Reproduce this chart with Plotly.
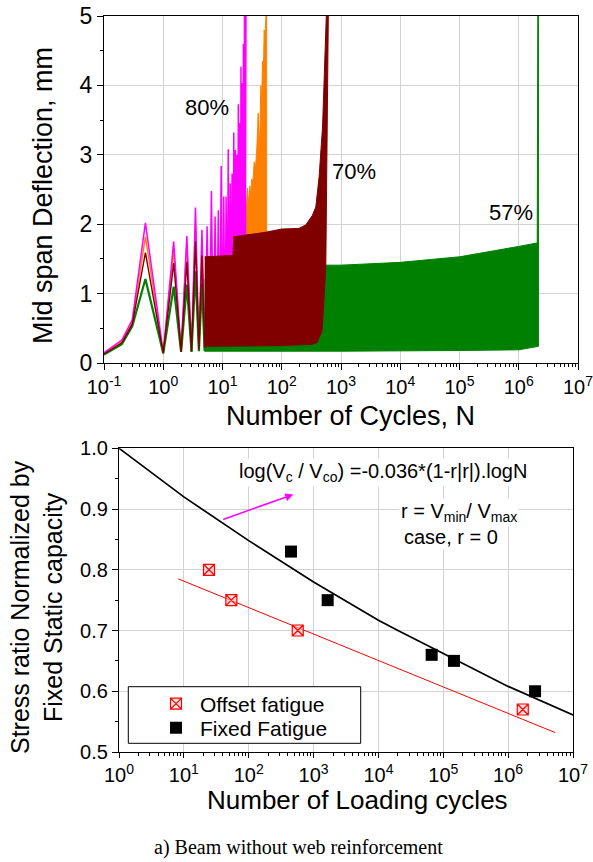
import plotly.graph_objects as go

W, H = 593, 862
FONT = "Liberation Sans, Arial, sans-serif"

# ---------------- top panel: mid-span deflection vs number of cycles ----------------
# early, individually visible cycles (troughs at whole cycles, peaks at half cycles)
mag_N = [0.1, 0.2, 0.3, 0.5, 1, 1.5, 2, 2.5, 3, 3.5, 4, 4.5, 5, 5.5, 6, 6.5, 7, 7.5, 8, 8.5,
         9, 9.5, 10, 10.5, 11, 11.5, 12, 12.5, 13, 13.5, 14, 14.5, 15, 15.5, 16, 16.5, 17,
         17.5, 18, 18.5, 19, 19.5, 20, 20.5, 21, 21.5, 22, 22.5, 23, 23.5, 24, 24.5, 25]
mag_D = [0.15, 0.33, 0.62, 2.02, 0.15, 1.75, 0.17, 1.83, 0.17, 2.24, 0.18, 1.92, 0.18, 1.97,
         0.18, 2.48, 0.19, 2.11, 0.19, 2.20, 0.19, 2.84, 0.20, 2.40, 0.20, 2.40, 0.20, 3.08,
         0.20, 2.59, 0.20, 2.73, 0.20, 3.32, 0.20, 3.07, 0.20, 3.00, 0.20, 3.73, 0.20, 3.46,
         0.20, 4.27, 0.20, 4.03, 0.20, 4.60, 0.20, 5.50, 0.20, 5.50, 5.50]

orn_N = [0.1, 0.2, 0.3, 0.5, 1, 1.5, 2, 2.5, 3, 3.5, 4, 4.5, 5]
orn_D = [0.14, 0.31, 0.58, 1.82, 0.14, 1.62, 0.16, 1.72, 0.17, 2.00, 0.18, 1.80, 0.18]
orn_hi_N = [20, 22, 23.2, 24, 25, 26.4, 27.5, 29, 30, 31, 32.5, 34.3, 36, 38, 40, 41.5, 43,
            44.4, 46, 47.3, 49, 50.5, 52, 54, 55.5]
orn_hi_D = [1.80, 1.85, 1.95, 2.30, 2.10, 2.52, 2.30, 2.55, 2.40, 2.65, 2.60, 2.90, 2.80,
            3.10, 3.60, 3.10, 3.40, 4.00, 3.80, 4.35, 4.20, 4.80, 4.70, 5.20, 5.20]
orn_lo_N = [20, 55.5]
orn_lo_D = [0.25, 0.25]

mar_N = [0.1, 0.2, 0.3, 0.5, 1, 1.5, 2, 2.5, 3, 3.5, 4, 4.5, 5]
mar_D = [0.13, 0.29, 0.56, 1.59, 0.14, 1.44, 0.16, 1.46, 0.17, 1.75, 0.20, 1.55, 0.22]
mar_hi_N = [5, 15, 15.5, 30, 50, 100, 196, 255, 330, 376, 427, 488, 537, 575]
mar_hi_D = [1.53, 1.55, 1.82, 1.85, 1.88, 1.93, 1.94, 1.99, 2.13, 2.25, 2.68, 3.40, 4.37, 5.20]
mar_lo_N = [5, 100, 330, 400, 427, 474, 486, 554, 614]
mar_lo_D = [0.24, 0.25, 0.27, 0.30, 0.37, 0.45, 0.54, 1.38, 5.20]

grn_N = [0.1, 0.2, 0.3, 0.5, 1, 1.5, 2, 2.5, 3, 3.5, 4, 4.5, 5]
grn_D = [0.12, 0.27, 0.53, 1.21, 0.14, 1.10, 0.16, 1.13, 0.16, 1.32, 0.17, 1.14, 0.17]
grn_hi_N = [5, 480, 540, 1e3, 1e4, 1e5, 1e6, 2.05e6, 2.1e6]
grn_hi_D = [1.20, 1.22, 1.41, 1.41, 1.45, 1.53, 1.68, 1.73, 5.20]
grn_lo_N = [5, 1e3, 1e5, 1e6, 2.15e6, 2.15e6]
grn_lo_D = [0.17, 0.17, 0.18, 0.19, 0.24, 5.20]

top_labels = ["80%", "70%", "57%"]

# ---------------- bottom panel: S-N data ----------------
off_N = [24.4, 54, 570, 1.68e6]
off_S = [0.80, 0.75, 0.70, 0.57]
fix_N = [449, 1650, 66200, 146000, 2.6e6]
fix_S = [0.83, 0.75, 0.66, 0.65, 0.60]
fitfix_N = [1, 10, 100, 1e3, 1e4, 2e4, 1e5, 1e6, 1e7]
fitfix_S = [1.0, 0.92, 0.848, 0.78, 0.717, 0.70, 0.662, 0.608, 0.561]
fitoff_N = [8.2, 5.3e6]
fitoff_S = [0.785, 0.532]

top_xtick_vals = [0.1, 1, 10, 100, 1e3, 1e4, 1e5, 1e6, 1e7]
top_xtick_text = ["10<sup>-1</sup>", "10<sup>0</sup>", "10<sup>1</sup>", "10<sup>2</sup>",
                  "10<sup>3</sup>", "10<sup>4</sup>", "10<sup>5</sup>", "10<sup>6</sup>",
                  "10<sup>7</sup>"]
bot_xtick_vals = top_xtick_vals[1:]
bot_xtick_text = top_xtick_text[1:]


def px(p):
    return p / W


def py(p):
    return 1 - p / H


def env(hiN, hiD, loN, loD):
    return list(hiN) + list(reversed(loN)), list(hiD) + list(reversed(loD))


MAG, ORN, MAR, GRN = "#FF00FF", "#FF8000", "#800000", "#008000"

fig = go.Figure()

# drawing order: orange, magenta, green, maroon
x, y = env(orn_hi_N, orn_hi_D, orn_lo_N, orn_lo_D)
fig.add_trace(go.Scatter(x=x, y=y, fill="toself", fillcolor=ORN, mode="lines",
                         line=dict(color=ORN, width=1), showlegend=False, xaxis="x", yaxis="y"))
fig.add_trace(go.Scatter(x=orn_N, y=orn_D, mode="lines", line=dict(color=ORN, width=1.4),
                         showlegend=False, xaxis="x", yaxis="y"))
fig.add_trace(go.Scatter(x=mag_N, y=mag_D, mode="lines", line=dict(color=MAG, width=1.5),
                         showlegend=False, xaxis="x", yaxis="y"))
x, y = env(grn_hi_N, grn_hi_D, grn_lo_N, grn_lo_D)
fig.add_trace(go.Scatter(x=x, y=y, fill="toself", fillcolor=GRN, mode="lines",
                         line=dict(color=GRN, width=1), showlegend=False, xaxis="x", yaxis="y"))
fig.add_trace(go.Scatter(x=grn_N, y=grn_D, mode="lines", line=dict(color=GRN, width=2.2),
                         showlegend=False, xaxis="x", yaxis="y"))
fig.add_trace(go.Scatter(x=mar_N, y=mar_D, mode="lines", line=dict(color=MAR, width=1.4),
                         showlegend=False, xaxis="x", yaxis="y"))
x, y = env(mar_hi_N, mar_hi_D, mar_lo_N, mar_lo_D)
fig.add_trace(go.Scatter(x=x, y=y, fill="toself", fillcolor=MAR, mode="lines",
                         line=dict(color=MAR, width=1), showlegend=False, xaxis="x", yaxis="y"))

# bottom panel
fig.add_trace(go.Scatter(x=fitfix_N, y=fitfix_S, mode="lines", line=dict(color="black", width=1.7),
                         showlegend=False, xaxis="x2", yaxis="y2"))
fig.add_trace(go.Scatter(x=fitoff_N, y=fitoff_S, mode="lines", line=dict(color="red", width=1),
                         showlegend=False, xaxis="x2", yaxis="y2"))
fig.add_trace(go.Scatter(x=off_N, y=off_S, mode="markers", name="Offset fatigue",
                         marker=dict(symbol="square-x", size=11, color="rgba(255,200,200,0.6)",
                                     line=dict(color="red", width=1.2)),
                         xaxis="x2", yaxis="y2", legend="legend"))
fig.add_trace(go.Scatter(x=fix_N, y=fix_S, mode="markers", name="Fixed Fatigue",
                         marker=dict(symbol="square", size=12, color="black"),
                         xaxis="x2", yaxis="y2", legend="legend2"))

minor_log = [k * 10 ** e for e in range(-1, 7) for k in range(2, 10)]
GRID = "#d2d2d2"
axis_common = dict(showline=True, mirror=True, linecolor="black", linewidth=1.3,
                   ticks="outside", tickwidth=1.3, tickcolor="black",
                   showgrid=True, gridcolor=GRID, gridwidth=1, zeroline=False,
                   automargin=False, ticklabeloverflow="allow")

leg_common = dict(xanchor="left", yanchor="middle", bgcolor="rgba(0,0,0,0)", borderwidth=0,
                  font=dict(size=21, family=FONT), itemwidth=38)

fig.update_layout(
    width=W, height=H, margin=dict(l=0, r=0, t=0, b=0, autoexpand=False),
    paper_bgcolor="white", plot_bgcolor="white",
    font=dict(family=FONT, color="black"),
    xaxis=dict(type="log", range=[-1, 7], domain=[px(104), px(578)], anchor="y",
               tickmode="array", tickvals=top_xtick_vals, ticktext=top_xtick_text,
               tickfont=dict(size=20), ticklen=6,
               minor=dict(tickmode="array", tickvals=minor_log, ticks="outside", ticklen=3,
                          tickcolor="black", showgrid=False),
               **axis_common),
    yaxis=dict(range=[0, 5], domain=[py(363), py(16)], anchor="x", dtick=1,
               tickfont=dict(size=23), ticklen=6,
               minor=dict(dtick=0.5, ticks="outside", ticklen=3, tickcolor="black", showgrid=False),
               **axis_common),
    xaxis2=dict(type="log", range=[0, 7], domain=[px(119), px(573)], anchor="y2",
                tickmode="array", tickvals=bot_xtick_vals, ticktext=bot_xtick_text,
                tickfont=dict(size=20), ticklen=5,
                minor=dict(tickmode="array", tickvals=minor_log, ticks="outside", ticklen=3,
                           tickcolor="black", showgrid=False),
                **axis_common),
    yaxis2=dict(range=[0.5, 1.0], domain=[py(752), py(448.3)], anchor="x2", dtick=0.1,
                tickformat=".1f", tickfont=dict(size=20), ticklen=6,
                minor=dict(dtick=0.05, ticks="outside", ticklen=3, tickcolor="black", showgrid=False),
                **axis_common),
    legend=dict(x=px(152), y=py(704), **leg_common),
    legend2=dict(x=px(152), y=py(728), **leg_common),
    showlegend=True,
)

# legend frame
fig.add_shape(type="rect", xref="paper", yref="paper", x0=px(128.3), x1=px(360.7),
              y0=py(743.3), y1=py(686.7), line=dict(color="black", width=1),
              fillcolor="white", layer="above")

C = dict(xref="paper", yref="paper", xanchor="center", yanchor="middle", showarrow=False)
ann = []
# top labels
for txt, (cx, cy) in zip(top_labels, [(207, 108), (354, 172), (511, 212)]):
    ann.append(dict(text=txt, x=px(cx), y=py(cy), font=dict(size=22), **C))
# axis titles
ann.append(dict(text="Mid span Deflection, mm", x=px(43), y=py(196), textangle=-90,
                font=dict(size=27), **C))
ann.append(dict(text="Number of Cycles, N", x=px(350), y=py(416), font=dict(size=27), **C))
ann.append(dict(text="Stress ratio Normalized by<br>Fixed Static capacity", x=px(36), y=py(607),
                textangle=-90, font=dict(size=25), **C))
ann.append(dict(text="Number of Loading cycles", x=px(357), y=py(800), font=dict(size=26), **C))
# formula texts
ann.append(dict(text="log(V<sub>c</sub> / V<sub>co</sub>) =-0.036*(1-r|r|).logN", x=px(383),
                y=py(472), font=dict(size=20), bgcolor="white", **C))
ann.append(dict(text="r = V<sub>min</sub>/ V<sub>max</sub>", x=px(459), y=py(512),
                font=dict(size=20), bgcolor="white", **C))
ann.append(dict(text="case, r = 0", x=px(451), y=py(537), font=dict(size=20), bgcolor="white", **C))
# arrow (log axis -> log10 coordinates)
ann.append(dict(x=2.687, y=0.924, ax=1.583, ay=0.882, xref="x2", yref="y2", axref="x2", ayref="y2",
                text="", showarrow=True, arrowhead=2, arrowsize=1, arrowwidth=1.6,
                arrowcolor=MAG))
# caption
ann.append(dict(text="a) Beam without web reinforcement", x=px(298), y=py(847),
                font=dict(size=20, family="Liberation Serif, Times New Roman, serif"), **C))
fig.update_layout(annotations=ann)

fig.write_html("out.html")
